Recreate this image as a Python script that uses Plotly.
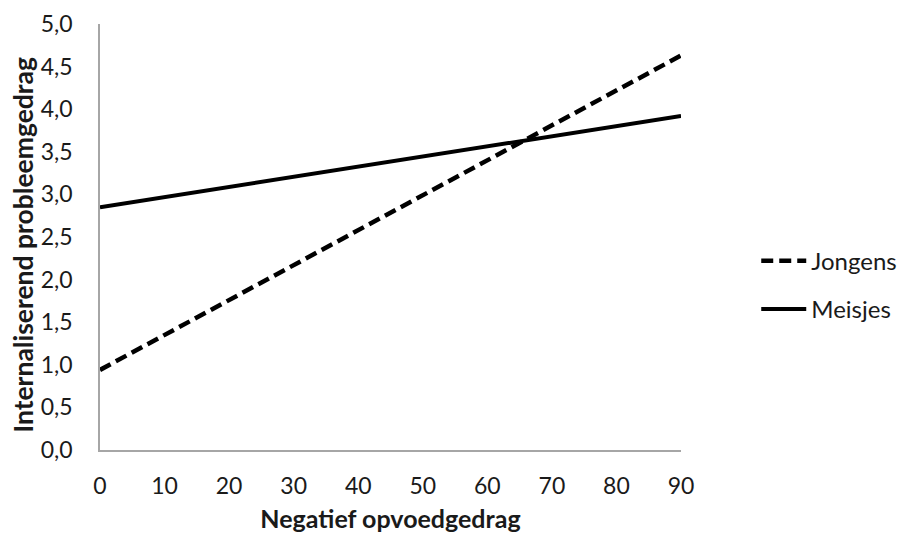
import plotly.graph_objects as go

x_vals = [0, 90]
jongens = [0.94, 4.63]
meisjes = [2.85, 3.92]
x_ticks = [0, 10, 20, 30, 40, 50, 60, 70, 80, 90]
y_ticks = [0, 0.5, 1.0, 1.5, 2.0, 2.5, 3.0, 3.5, 4.0, 4.5, 5.0]
y_labels = [f"{v:.1f}".replace(".", ",") for v in y_ticks]

FONT = "Lato"
TXT = "#1a1a1a"

fig = go.Figure()
fig.add_trace(go.Scatter(x=x_vals, y=jongens, mode="lines", name="Jongens",
                         legendgroup="j",
                         line=dict(color="black", width=4.5, dash="12px,6px")))
fig.add_trace(go.Scatter(x=x_vals, y=meisjes, mode="lines", name="Meisjes",
                         legendgroup="m",
                         line=dict(color="black", width=4)))

fig.update_layout(
    width=906, height=539,
    margin=dict(l=92, r=228, t=16, b=97),
    paper_bgcolor="white", plot_bgcolor="white",
    font=dict(family=FONT, size=22, color=TXT),
    showlegend=True,
    legend=dict(x=1.1295, y=0.387, xanchor="left", yanchor="middle",
                font=dict(size=24, family=FONT, color=TXT), tracegroupgap=14,
                itemwidth=45, bgcolor="rgba(0,0,0,0)"),
    xaxis=dict(range=[0, 90], tickmode="array", tickvals=x_ticks,
               ticktext=[str(v) for v in x_ticks], showgrid=False, zeroline=False,
               showline=True, linecolor="#a6a6a6", linewidth=1.5, ticks="",
               automargin=False,
               ticklabelstandoff=15, tickfont=dict(size=23, color=TXT),
               title=dict(text="<b>Negatief opvoedgedrag</b>",
                          font=dict(size=25, color=TXT), standoff=12)),
    yaxis=dict(range=[0, 5], tickmode="array", tickvals=y_ticks, ticktext=y_labels,
               showgrid=False, zeroline=False, showline=True, linecolor="#a6a6a6",
               linewidth=1.5, ticks="", automargin=False, ticklabelstandoff=21,
               tickfont=dict(size=23, color=TXT)),
    annotations=[dict(text="<b>Internaliserend probleemgedrag</b>", textangle=-90,
                      xref="paper", yref="paper", x=-0.1331, y=0.481,
                      xanchor="center", yanchor="middle", showarrow=False,
                      font=dict(size=26.5, family=FONT, color=TXT))],
)

fig.write_html("out.html")
